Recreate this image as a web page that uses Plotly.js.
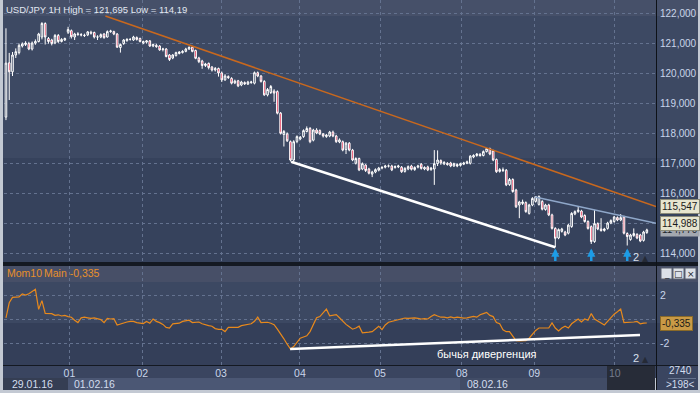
<!DOCTYPE html>
<html><head><meta charset="utf-8">
<script src="https://cdn.plot.ly/plotly-3.0.1.min.js"></script>
<style>html,body{margin:0;padding:0;background:#2e3850;}#chart{width:700px;height:393px;}</style>
</head><body><div id="chart"></div>
<script>
// ---- Data (USD/JPY 1H, 29.01.16 – 10.02.16) ----
const openP = [118.53,120.34,120.04,120.60,120.68,120.90,120.95,120.98,120.80,121.00,121.05,121.20,121.65,121.15,121.10,121.00,121.25,121.05,121.10,121.36,121.41,121.20,121.28,121.28,121.26,121.27,121.36,121.35,121.20,121.20,121.30,121.20,121.38,121.38,121.30,120.85,120.98,121.08,121.12,121.10,121.18,121.15,121.00,121.03,121.07,120.90,120.92,120.90,120.78,120.80,120.60,120.50,120.58,120.65,120.68,120.72,120.80,120.86,120.75,120.50,120.40,120.25,120.32,120.20,120.10,120.15,120.00,119.77,119.88,119.82,119.67,119.74,119.60,119.68,119.63,119.68,119.66,120.01,119.90,119.72,119.27,119.35,119.40,119.38,118.66,117.95,117.97,117.71,117.10,117.72,117.80,117.88,118.05,118.15,117.76,118.10,118.08,117.97,117.88,117.90,118.03,117.90,117.70,117.71,117.45,117.66,117.43,116.99,117.15,116.80,116.93,116.80,116.63,116.70,116.76,116.83,116.86,116.90,116.90,116.85,116.87,116.86,116.72,116.80,116.90,116.78,116.86,116.96,116.80,116.87,116.78,116.80,116.98,117.08,116.97,116.99,117.00,116.90,116.95,116.92,116.96,116.99,116.99,117.20,117.25,117.29,117.25,117.38,117.48,117.40,117.12,116.72,116.75,116.76,116.28,116.45,116.10,115.60,115.65,115.68,115.32,115.60,115.72,115.62,115.72,115.45,115.60,115.27,114.82,114.50,114.72,114.70,114.66,114.88,115.30,115.38,115.40,115.25,115.05,114.88,114.38,114.98,114.80,114.75,114.82,115.00,115.05,115.18,115.10,115.20,114.65,114.45,114.58,114.62,114.60,114.42,114.68];
const highP = [121.49,120.67,120.70,120.82,120.98,121.02,121.06,121.04,121.05,121.12,121.34,121.695,121.69,121.20,121.14,121.30,121.30,121.16,121.18,121.54,121.45,121.34,121.36,121.33,121.31,121.40,121.41,121.38,121.26,121.32,121.33,121.42,121.44,121.41,121.33,120.98,121.13,121.16,121.16,121.24,121.22,121.18,121.08,121.10,121.10,120.98,120.97,120.93,120.84,120.83,120.63,120.63,120.71,120.73,120.76,120.84,120.89,120.90,120.78,120.54,120.44,120.34,120.35,120.23,120.20,120.18,120.05,119.96,119.92,119.86,119.78,119.77,119.74,119.72,119.74,119.74,120.05,120.05,119.93,119.76,119.50,119.60,119.46,119.42,118.70,118.10,118.02,117.75,117.76,117.92,117.90,118.12,118.22,118.20,118.14,118.16,118.12,118.00,117.97,118.07,118.08,117.94,117.82,117.75,117.70,117.70,117.47,117.19,117.18,117.02,116.96,116.84,116.74,116.82,116.87,116.90,116.94,116.95,116.94,116.92,116.94,116.90,116.86,116.92,116.94,116.89,116.94,117.00,116.89,116.91,116.87,117.43,117.42,117.12,117.06,117.03,117.04,117.01,116.99,117.01,117.04,117.08,117.26,117.29,117.33,117.33,117.42,117.50,117.51,117.44,117.15,116.83,116.85,116.80,116.50,116.49,116.14,115.74,115.78,115.72,115.64,115.86,115.90,115.92,115.76,115.64,115.64,115.31,114.86,114.82,114.84,114.74,114.97,115.36,115.42,115.55,115.44,115.29,115.09,114.92,115.43,115.02,115.16,114.84,115.04,115.12,115.24,115.22,115.30,115.24,114.69,114.64,114.82,114.66,114.64,114.74,114.81];
const lowP = [118.43,119.10,119.90,120.50,120.62,120.85,120.90,120.76,120.75,120.94,121.02,121.12,120.95,120.98,120.92,120.96,121.00,121.02,121.07,121.30,121.15,121.10,121.24,121.22,121.20,121.23,121.28,121.15,121.10,121.16,121.14,121.18,121.34,121.26,120.84,120.68,120.94,121.04,121.08,121.07,121.08,121.02,120.96,120.98,120.87,120.86,120.84,120.74,120.72,120.52,120.40,120.46,120.55,120.62,120.65,120.69,120.77,120.69,120.46,120.33,120.14,120.20,120.12,120.05,120.05,119.88,119.70,119.74,119.80,119.62,119.63,119.53,119.56,119.60,119.60,119.64,119.62,119.86,119.68,119.24,119.22,119.30,119.04,118.62,117.95,117.55,117.70,117.05,117.04,117.66,117.76,117.84,118.02,117.66,117.72,117.96,117.93,117.85,117.84,117.86,117.86,117.67,117.66,117.39,117.30,117.39,117.06,116.95,116.73,116.76,116.70,116.62,116.53,116.66,116.72,116.79,116.82,116.85,116.73,116.81,116.83,116.67,116.68,116.76,116.75,116.74,116.82,116.78,116.76,116.73,116.74,116.27,116.90,116.94,116.93,116.91,116.86,116.87,116.86,116.88,116.93,116.96,116.95,117.16,117.21,117.21,117.22,117.35,117.26,117.06,116.67,116.68,116.70,116.23,116.24,116.01,115.50,115.16,115.60,115.34,115.28,115.56,115.68,115.58,115.42,115.41,115.23,114.78,114.19,114.46,114.68,114.56,114.62,114.84,115.26,115.34,115.16,115.01,114.78,114.30,114.34,114.76,114.71,114.71,114.78,114.96,115.01,115.06,115.06,114.62,114.25,114.41,114.54,114.46,114.36,114.38,114.64];
const closeP = [120.33,120.04,120.60,120.71,120.92,120.97,121.00,120.80,121.00,121.05,121.30,121.65,121.20,121.05,120.98,121.25,121.05,121.12,121.15,121.45,121.21,121.30,121.30,121.27,121.25,121.37,121.33,121.20,121.20,121.28,121.18,121.38,121.40,121.30,120.86,120.95,121.10,121.12,121.12,121.20,121.12,121.05,121.05,121.07,120.90,120.95,120.88,120.77,120.80,120.55,120.45,120.60,120.68,120.70,120.72,120.80,120.85,120.72,120.49,120.38,120.25,120.30,120.18,120.10,120.15,120.00,119.77,119.90,119.85,119.66,119.73,119.57,119.70,119.64,119.70,119.70,120.01,119.90,119.72,119.27,119.45,119.55,119.33,118.66,117.99,118.05,117.74,117.10,117.71,117.88,117.86,118.08,118.15,117.71,118.10,118.00,117.97,117.90,117.93,118.03,117.90,117.71,117.77,117.43,117.66,117.43,117.10,117.15,116.77,116.98,116.75,116.66,116.70,116.78,116.83,116.85,116.90,116.90,116.77,116.88,116.90,116.71,116.82,116.88,116.79,116.85,116.90,116.82,116.85,116.77,116.83,116.98,117.10,117.00,117.02,116.95,116.90,116.98,116.90,116.98,117.00,117.04,117.23,117.25,117.30,117.25,117.38,117.48,117.30,117.10,116.71,116.78,116.77,116.27,116.45,116.05,115.54,115.70,115.70,115.38,115.60,115.82,115.88,115.88,115.46,115.60,115.27,114.82,114.49,114.78,114.80,114.60,114.93,115.32,115.38,115.43,115.20,115.05,114.82,114.38,114.98,114.80,114.75,114.80,115.00,115.08,115.20,115.10,115.18,114.66,114.55,114.60,114.65,114.50,114.40,114.70,114.77];
const mom10 = [0.1,1.35,1.8,1.85,1.85,2.08,2.0,2.1,2.28,2.47,
0.8,1.53,0.47,0.45,0.45,0.3,0.35,0.25,0.3,0.2,
0.15,-0.1,-0.3,0.1,0.15,0.1,0.05,0.1,0.05,-0.05,
-0.3,0.05,0.0,0.03,-0.5,-0.4,-0.3,-0.25,-0.2,-0.2,
-0.3,-0.35,-0.38,-0.2,-0.35,0.0,-0.2,-0.3,-0.45,-0.7,
-0.75,-0.4,-0.4,-0.35,-0.2,-0.15,-0.1,-0.3,-0.3,-0.25,
-0.4,-0.5,-0.55,-0.6,-0.8,-0.86,-0.86,-1.05,-0.7,-0.7,
-0.7,-0.7,-0.55,-0.5,-0.45,-0.4,-0.19,0.16,-0.3,-0.3,
-0.27,-0.35,-0.47,-0.85,-1.2,-1.65,-2.1,-2.5,-2.3,-1.9,
-1.6,-1.5,-1.4,-1.05,-0.5,0.1,0.2,0.5,0.82,0.27,
0.3,0.36,0.1,-0.2,-0.45,-0.65,-0.85,-0.75,-0.6,-1.15,
-1.15,-1.1,-1.05,-0.8,-0.6,-0.88,-0.5,-0.27,-0.2,-0.1,
0.0,0.05,0.08,0.05,0.08,0.1,0.05,0.0,0.03,0.0,
0.2,0.36,0.25,0.15,0.16,0.1,0.18,0.1,0.16,0.1,
0.08,0.1,0.18,0.22,0.15,0.35,0.45,0.55,0.3,0.2,
-0.3,-0.4,-0.9,-1.06,-1.06,-1.4,-1.8,-1.82,-1.8,-1.8,
-1.6,-1.3,-0.95,-0.75,-0.75,-0.75,-0.75,-0.33,-0.75,-1.0,
-0.75,-0.6,-0.75,-0.4,-0.2,0.0,-0.25,0.0,-0.1,0.45,
0.0,-0.15,-0.3,-0.5,-0.2,0.1,0.4,0.6,0.83,-0.3,
-0.3,-0.27,-0.25,-0.2,-0.4,-0.35,-0.335];
// day separators (bar index) and labels
const dayLabels = ['01','02','03','04','05','08','09','10'];
const dayPos = [19.4,41.7,65.8,89.9,114.4,139.4,161.6,186.2];
const weekLabels = ['29.01.16','01.02.16','08.02.16'];
// drawn trend lines: [bar index], [price / momentum]
const resistX = [30.4,198.8], resistY = [121.9,115.547];
const res2X = [161.8,198.8], res2Y = [115.87,114.988];
const supportX = [87.2,168], supportY = [117.04,114.19];
const momLineX = [86.9,193.9], momLineY = [-2.5,-1.33];
const arrowBars = [168,179,190];
const lastClose = 114.770, momLast = -0.335;
const hiLabel = '121,695', loLabel = '114,19';

// ---- layout helpers (pixel -> paper) ----
const W=700,H=393,ML=4,MR=44,MT=0,MB=27;
const PW=W-ML-MR, PH=H-MT-MB;
const px = x => (x-ML)/PW;
const py = y => (H-MB-y)/PH;
const idx = openP.map((_,i)=>i);

function rect(x0,y0,x1,y1,color,layer){
  return {type:'rect',xref:'paper',yref:'paper',x0:px(x0),x1:px(x1),y0:py(y1),y1:py(y0),
    fillcolor:color,line:{width:0},layer:layer||'below'};
}
const font = 'Liberation Sans, Arial, sans-serif';
const txtCol = '#c9d5ea';

const traces = [
  {type:'candlestick',x:idx,open:openP,high:highP,low:lowP,close:closeP,xaxis:'x',yaxis:'y',
   increasing:{line:{color:'#ffffff',width:1},fillcolor:'#3b4761'},
   decreasing:{line:{color:'#ffffff',width:1},fillcolor:'#e3183f'},
   whiskerwidth:0,hoverinfo:'skip',showlegend:false},
  {type:'scatter',mode:'lines',x:resistX,y:resistY,xaxis:'x',yaxis:'y',line:{color:'#c8681e',width:1.5},hoverinfo:'skip',showlegend:false},
  {type:'scatter',mode:'lines',x:res2X,y:res2Y,xaxis:'x',yaxis:'y',line:{color:'#8fa7c9',width:1.5},hoverinfo:'skip',showlegend:false},
  {type:'scatter',mode:'lines',x:supportX,y:supportY,xaxis:'x',yaxis:'y',line:{color:'#ffffff',width:2.5},hoverinfo:'skip',showlegend:false},
  {type:'scatter',mode:'lines',x:idx,y:mom10,xaxis:'x',yaxis:'y2',line:{color:'#e8891c',width:1.2},hoverinfo:'skip',showlegend:false},
  {type:'scatter',mode:'lines',x:momLineX,y:momLineY,xaxis:'x',yaxis:'y2',line:{color:'#ffffff',width:2.5},hoverinfo:'skip',showlegend:false}
];

const shapes = [
  rect(-2,-2,702,395,'#c3c9d3'),
  rect(3,0,698,16,'#465069'),
  rect(3,16,698,158,'#3d4963'),
  rect(3,158,698,262,'#36425c'),
  rect(3,262,698,266,'#141922'),
  rect(3,266,698,282,'#474f67'),
  rect(3,282,698,323,'#3c4862'),
  rect(3,323,698,365,'#343f59'),
  rect(3,365,698,366,'#141922'),
  rect(3,366,698,378,'#3a4560'),
  rect(3,378,68,390,'#353e53'),
  rect(68,378,460,390,'#4b5774'),
  rect(460,378,607,390,'#414c66'),
  rect(607,366,655,390,'#272c38'),
  rect(657,366,698,390,'#3a4560'),
  rect(656,0,657,390,'#0e1218','above'),
  rect(668,378,696,378.6,'#8090a8','above')
];

[[661,'_'],[673,'□'],[685,'×']].forEach(b=>{
  shapes.push({type:'rect',xref:'paper',yref:'paper',x0:px(b[0]),x1:px(b[0]+11),y0:py(279),y1:py(268),
    fillcolor:'#dde1e8',line:{color:'#5a6070',width:1},layer:'above'});
});

const annotations = [
  {xref:'paper',yref:'paper',x:px(4),y:py(9),xanchor:'left',yanchor:'middle',showarrow:false,
   text:'USD/JPY 1H High = '+hiLabel+' Low = '+loLabel,font:{family:font,size:9.5,color:'#e2e8f2'}},
  {xref:'paper',yref:'paper',x:px(5),y:py(273),xanchor:'left',yanchor:'middle',showarrow:false,
   text:'Mom10',font:{family:font,size:10.5,color:'#e8902a'}},
  {xref:'paper',yref:'paper',x:px(42),y:py(273),xanchor:'left',yanchor:'middle',showarrow:false,
   text:'Main -0,335',font:{family:font,size:10.5,color:'#e8902a'}},
  {xref:'paper',yref:'y',x:px(660),y:lastClose,xanchor:'left',yanchor:'middle',showarrow:false,
   text:'114,770',font:{family:font,size:10,color:'#20242c'},bgcolor:'#a3a8b0',borderpad:1},
  {xref:'paper',yref:'y',x:px(660),y:res2Y[1],xanchor:'left',yanchor:'middle',showarrow:false,
   text:'114,988',font:{family:font,size:10,color:'#1a1a1a'},bgcolor:'#e7e5cf',bordercolor:'#8a8a78',borderwidth:1,borderpad:1},
  {xref:'paper',yref:'y',x:px(660),y:resistY[1],xanchor:'left',yanchor:'middle',showarrow:false,
   text:'115,547',font:{family:font,size:10,color:'#1a1a1a'},bgcolor:'#e7e5cf',bordercolor:'#8a8a78',borderwidth:1,borderpad:1},
  {xref:'paper',yref:'y2',x:px(660),y:momLast,xanchor:'left',yanchor:'middle',showarrow:false,
   text:'-0,335',font:{family:font,size:10,color:'#1a1a1a'},bgcolor:'#c99a46',bordercolor:'#8a6a28',borderwidth:1,borderpad:1},
  {xref:'x',yref:'y2',x:147,y:-2.92,xanchor:'center',yanchor:'middle',showarrow:false,
   text:'бычья дивергенция',font:{family:font,size:11,color:'#ffffff'}},
  {xref:'paper',yref:'paper',x:px(636),y:py(257),xanchor:'center',yanchor:'middle',showarrow:false,
   text:'2',font:{family:font,size:11,color:'#d8e0ee'}},
  {xref:'paper',yref:'paper',x:px(645),y:py(258),xanchor:'center',yanchor:'middle',showarrow:false,
   text:'▲',font:{family:'DejaVu Sans',size:8,color:'#252a36'}},
  {xref:'paper',yref:'paper',x:px(636),y:py(358),xanchor:'center',yanchor:'middle',showarrow:false,
   text:'2',font:{family:font,size:11,color:'#d8e0ee'}},
  {xref:'paper',yref:'paper',x:px(645),y:py(359),xanchor:'center',yanchor:'middle',showarrow:false,
   text:'▲',font:{family:'DejaVu Sans',size:8,color:'#252a36'}},
  {xref:'paper',yref:'paper',x:px(10),y:py(384),xanchor:'left',yanchor:'middle',showarrow:false,
   text:weekLabels[0],font:{family:font,size:10.5,color:'#d3ddee'}},
  {xref:'paper',yref:'paper',x:px(72),y:py(384),xanchor:'left',yanchor:'middle',showarrow:false,
   text:weekLabels[1],font:{family:font,size:10.5,color:'#d3ddee'}},
  {xref:'paper',yref:'paper',x:px(465),y:py(384),xanchor:'left',yanchor:'middle',showarrow:false,
   text:weekLabels[2],font:{family:font,size:10.5,color:'#d3ddee'}},
  {xref:'paper',yref:'paper',x:px(681),y:py(370),xanchor:'center',yanchor:'middle',showarrow:false,
   text:'2740',font:{family:font,size:10,color:'#d3ddee'}},
  {xref:'paper',yref:'paper',x:px(681),y:py(384),xanchor:'center',yanchor:'middle',showarrow:false,
   text:'>198<',font:{family:font,size:10,color:'#d3ddee'}}
];
[[666.5,'_'],[678.5,'□'],[690.5,'×']].forEach(b=>{
  annotations.push({xref:'paper',yref:'paper',x:px(b[0]),y:py(273.5),xanchor:'center',yanchor:'middle',showarrow:false,
    text:b[1],font:{family:'DejaVu Sans',size:9,color:'#20242c'}});
});
arrowBars.forEach(b=>{
  annotations.push({xref:'x',yref:'y',x:b,y:114.15,ax:0,ay:14,showarrow:true,arrowhead:2,arrowsize:0.65,
    arrowwidth:2.5,arrowcolor:'#1d9ce6',text:''});
});

const grid = {gridcolor:'#64728f',griddash:'3px,3px',gridwidth:1};
const layout = {
  width:W,height:H,margin:{l:ML,r:MR,t:MT,b:MB,pad:0},
  paper_bgcolor:'#2e3850',plot_bgcolor:'rgba(0,0,0,0)',
  separators:', ',showlegend:false,hovermode:false,dragmode:false,
  font:{family:font,size:10,color:txtCol},
  xaxis:Object.assign({range:[-0.6,198.8],anchor:'y2',tickvals:dayPos,
    ticktext:dayLabels.map((d,i)=> i===dayLabels.length-1 ? '<span style="color:#757c8c">'+d+'</span>' : d),
    showgrid:true,zeroline:false,showline:false,ticks:'',tickfont:{family:font,size:10.5,color:txtCol},
    rangeslider:{visible:false},fixedrange:true},grid),
  yaxis:Object.assign({domain:[py(262),py(0)],range:[113.7,122.4333],side:'right',
    tickvals:[114,115,116,117,118,119,120,121,122],tickformat:'.3f',ticks:'',ticklabelstandoff:3,
    showgrid:true,zeroline:false,showline:false,tickfont:{family:font,size:10,color:txtCol},fixedrange:true},grid),
  yaxis2:Object.assign({domain:[py(365),py(266)],range:[-3.8333,4.4167],side:'right',anchor:'x',
    tickvals:[-2,0,2],ticktext:['-2','','2'],ticks:'',ticklabelstandoff:3,
    showgrid:true,zeroline:false,showline:false,tickfont:{family:font,size:10.5,color:txtCol},fixedrange:true},grid),
  shapes:shapes,annotations:annotations
};
Plotly.newPlot('chart',traces,layout,{displayModeBar:false,staticPlot:true});
</script></body></html>
